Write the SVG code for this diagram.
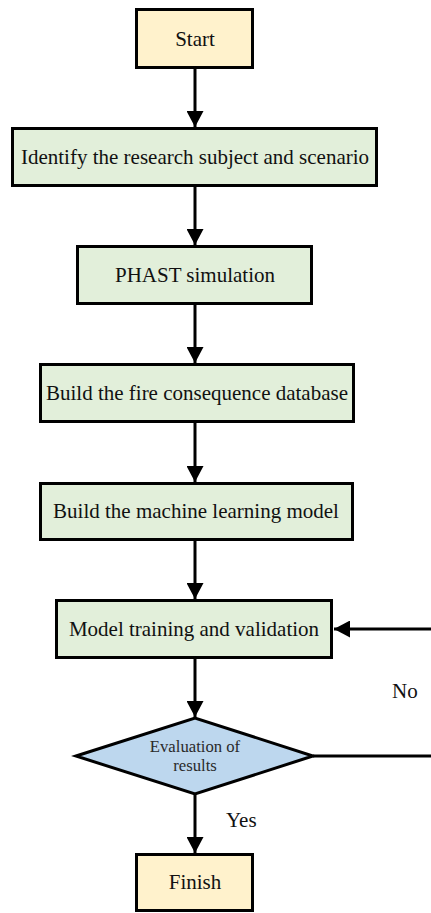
<svg xmlns="http://www.w3.org/2000/svg" width="431" height="913" viewBox="0 0 431 913">
<style>
.box{stroke:#000;stroke-width:3}
.term{fill:#FFF2CC}
.proc{fill:#E2EFDA}
.dec{fill:#BDD7EE}
.t{font-family:'Liberation Serif','Times New Roman',serif;font-size:21px;fill:#111;text-anchor:middle}
.small{font-size:16.7px;fill:#2a2a2a}
.lbl{text-anchor:start}
.conn{stroke:#000;stroke-width:3;fill:none}
</style>
<defs>
<marker id="ah" markerUnits="userSpaceOnUse" markerWidth="16" markerHeight="17" refX="16" refY="8.5" orient="auto">
<path d="M0,0 L16,8.5 L0,17 z" fill="#000"/>
</marker>
</defs>
<g id="connectors">
<line class="conn" x1="195" y1="69" x2="195" y2="127" marker-end="url(#ah)"/>
<line class="conn" x1="195" y1="187" x2="195" y2="245" marker-end="url(#ah)"/>
<line class="conn" x1="195" y1="305" x2="195" y2="363" marker-end="url(#ah)"/>
<line class="conn" x1="195" y1="423" x2="195" y2="482" marker-end="url(#ah)"/>
<line class="conn" x1="195" y1="541" x2="195" y2="599" marker-end="url(#ah)"/>
<line class="conn" x1="195" y1="659" x2="195" y2="717" marker-end="url(#ah)"/>
<line class="conn" x1="195" y1="794" x2="195" y2="853" marker-end="url(#ah)"/>
<line class="conn" x1="313" y1="756" x2="431" y2="756"/>
<line class="conn" x1="431" y1="629" x2="334" y2="629" marker-end="url(#ah)"/>
<text class="t lbl" x="392" y="698">No</text>
<text class="t lbl" x="226" y="827">Yes</text>
</g>
<g id="start">
<rect class="box term" x="136.5" y="9.5" width="116" height="58"/>
<text class="t" x="195" y="46">Start</text>
</g>
<g id="identify">
<rect class="box proc" x="12.5" y="128.5" width="364" height="57"/>
<text class="t" x="195" y="164">Identify the research subject and scenario</text>
</g>
<g id="phast">
<rect class="box proc" x="77.5" y="246.5" width="234" height="57"/>
<text class="t" x="195" y="282">PHAST simulation</text>
</g>
<g id="database">
<rect class="box proc" x="40.5" y="364.5" width="313" height="57"/>
<text class="t" x="197" y="400">Build the fire consequence database</text>
</g>
<g id="mlmodel">
<rect class="box proc" x="40.5" y="483.5" width="312" height="56"/>
<text class="t" x="196" y="518">Build the machine learning model</text>
</g>
<g id="training">
<rect class="box proc" x="56.5" y="600.5" width="275" height="57"/>
<text class="t" x="194" y="636">Model training and validation</text>
</g>
<g id="evaluation">
<polygon class="box dec" points="76,756 195,718 313,756 195,794"/>
<text class="t small" x="195" y="752">Evaluation of</text>
<text class="t small" x="195" y="771">results</text>
</g>
<g id="finish">
<rect class="box term" x="136.5" y="854.5" width="116" height="56"/>
<text class="t" x="195" y="889">Finish</text>
</g>
</svg>
